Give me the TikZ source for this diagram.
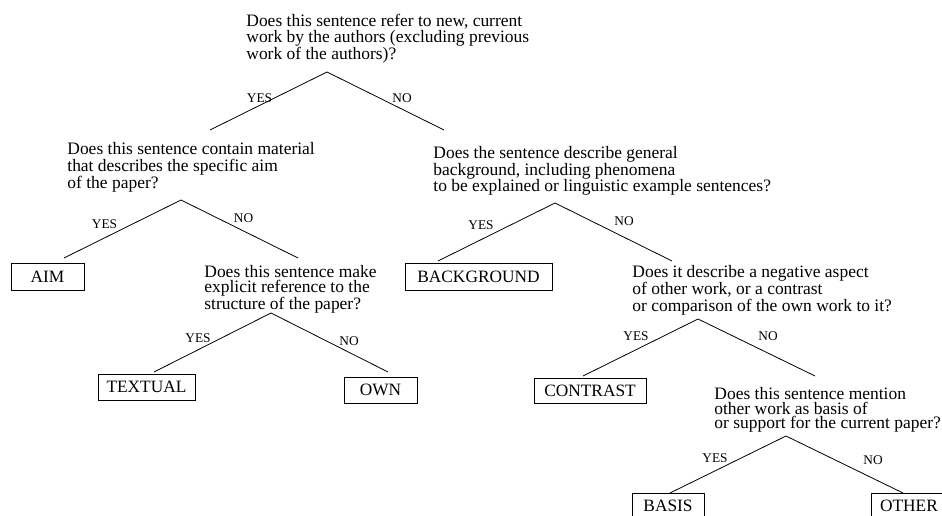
\documentclass[tikz,border=0pt]{standalone}
\usepackage{fontspec}
\setmainfont{Liberation Serif}
\usepackage{tikz}

\begin{document}
\begin{tikzpicture}[
        x=0.75pt, y=-0.75pt, line width=0.6pt,
        question/.style={anchor=north west, inner sep=0pt, align=left, font=\fontsize{13.1}{11.6}\selectfont},
        leaf/.style={draw, inner sep=0pt, minimum height=19.5pt, font=\fontsize{13}{15}\selectfont},
        answer/.style={inner sep=0pt, font=\fontsize{10}{12}\selectfont}
    ]
    \useasboundingbox (0,0) rectangle (942,516);
    \clip (0,0) rectangle (942,516);

    % root question
    \node[question] (newwork) at (246,14) {Does this sentence refer to new, current\\work by the authors (excluding previous\\work of the authors)?};
    \coordinate (newwork-fork) at (327,72);
    \coordinate (newwork-yes) at (210,130);
    \coordinate (newwork-no) at (444,130);
    \draw (newwork-yes) -- (newwork-fork) -- (newwork-no);
    \node[answer] (newwork-y) at (259.5,98) {YES};
    \node[answer] (newwork-n) at (402,98) {NO};

    % own work side
    \node[question, font=\fontsize{13.1}{12.75}\selectfont] (aim) at (67,142) {Does this sentence contain material\\that describes the specific aim\\of the paper?};
    \coordinate (aim-fork) at (181,200);
    \coordinate (aim-yes) at (64,258);
    \coordinate (aim-no) at (298,258);
    \draw (aim-yes) -- (aim-fork) -- (aim-no);
    \node[answer] (aim-y) at (104.5,224) {YES};
    \node[answer] (aim-n) at (243.5,218) {NO};
    \node[leaf, minimum width=54.75pt, minimum height=20.25pt] (AIM) at (47.5,276.5) {AIM};

    \node[question, font=\fontsize{13.1}{10.9}\selectfont] (struct) at (204,265) {Does this sentence make\\explicit reference to the\\structure of the paper?};
    \coordinate (struct-fork) at (271,313);
    \coordinate (struct-yes) at (154,372);
    \coordinate (struct-no) at (388,372);
    \draw (struct-yes) -- (struct-fork) -- (struct-no);
    \node[answer] (struct-y) at (198,338) {YES};
    \node[answer] (struct-n) at (349,341) {NO};
    \node[leaf, minimum width=72.75pt] (TEXTUAL) at (146.5,387) {TEXTUAL};
    \node[leaf, minimum width=54.75pt] (OWN) at (380.5,390) {OWN};

    % other work side
    \node[question, font=\fontsize{13.1}{12.4}\selectfont] (backgr) at (433,146) {Does the sentence describe general\\background, including phenomena\\to be explained or linguistic example sentences?};
    \coordinate (backgr-fork) at (555,203);
    \coordinate (backgr-yes) at (438,261);
    \coordinate (backgr-no) at (672,261);
    \draw (backgr-yes) -- (backgr-fork) -- (backgr-no);
    \node[answer] (backgr-y) at (481,225) {YES};
    \node[answer] (backgr-n) at (624,221) {NO};
    \node[leaf, minimum width=110.25pt, minimum height=20.25pt] (BACKGROUND) at (478.5,276.5) {BACKGROUND};

    \node[question, font=\fontsize{13.1}{10.9}\selectfont] (contr) at (632,265) {Does it describe a negative aspect\\of other work, or a contrast\\or comparison of the own work to it?};
    \coordinate (contr-fork) at (698,319);
    \coordinate (contr-yes) at (583,376);
    \coordinate (contr-no) at (815,376);
    \draw (contr-yes) -- (contr-fork) -- (contr-no);
    \node[answer] (contr-y) at (636,336) {YES};
    \node[answer] (contr-n) at (768,336) {NO};
    \node[leaf, minimum width=84pt, minimum height=18.75pt] (CONTRAST) at (590,390.5) {CONTRAST};

    \node[question, font=\fontsize{13.1}{10.9}\selectfont] (basis) at (714,387) {Does this sentence mention\\other work as basis of\\or support for the current paper?};
    \coordinate (basis-fork) at (786,436);
    \coordinate (basis-yes) at (670,493);
    \coordinate (basis-no) at (903,493);
    \draw (basis-yes) -- (basis-fork) -- (basis-no);
    \node[answer] (basis-y) at (715,458) {YES};
    \node[answer] (basis-n) at (873,460) {NO};
    \node[leaf, minimum width=54pt] (BASIS) at (668,506) {BASIS};
    \node[leaf, minimum width=57pt] (OTHER) at (909,506) {OTHER};
\end{tikzpicture}
\end{document}
